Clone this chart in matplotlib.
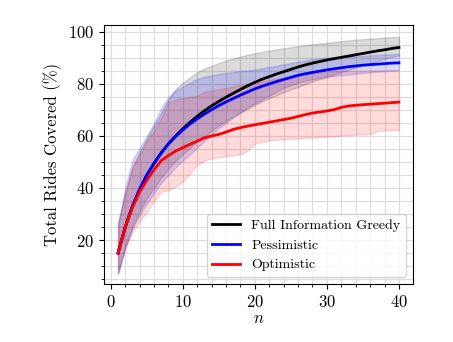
import matplotlib
matplotlib.use("Agg")
import matplotlib.pyplot as plt
import numpy as np
from matplotlib.ticker import MultipleLocator

matplotlib.rcParams.update({
    "font.family": "serif",
    "font.serif": ["cmr10"],
    "mathtext.fontset": "cm",
    "axes.formatter.use_mathtext": True,
    "font.size": 12,
})

n = np.arange(1, 41)

# Full information greedy: mean and band
greedy = [15, 25, 33, 39.5, 45, 49.5, 53.5, 57, 60, 62.8,
          65.3, 67.6, 69.7, 71.6, 73.3, 74.9, 76.4, 77.9, 79.3, 80.6,
          81.8, 82.8, 83.8, 84.7, 85.6, 86.5, 87.3, 88, 88.6, 89.2,
          89.7, 90.2, 90.7, 91.2, 91.7, 92.2, 92.7, 93.1, 93.6, 94]
greedy_hi = [26, 38, 48, 54, 59, 64, 69, 74, 78, 80.5,
             82.5, 84.5, 86, 87, 88, 89, 89.8, 90.5, 91.2, 91.8,
             92.3, 92.8, 93.3, 93.7, 94.1, 94.5, 94.9, 95.2, 95.5, 95.8,
             96.1, 96.4, 96.7, 97, 97.2, 97.4, 97.6, 97.8, 98, 98.1]
greedy_lo = [7, 17, 25, 31, 36, 40, 44, 47.5, 50.5, 53,
             55.5, 58, 60, 62, 64, 65.8, 67.5, 69, 70.5, 72,
             73.3, 74.5, 75.7, 76.8, 77.9, 78.9, 79.9, 80.9, 81.8, 82.7,
             83.6, 84.5, 85.4, 86.3, 87.2, 88, 88.8, 89.6, 90.3, 91]

# Pessimistic
pess = [15, 25, 33, 39.5, 45, 49.5, 53.5, 57, 59.8, 62.3,
        64.6, 66.6, 68.4, 70.1, 71.7, 73.1, 74.4, 75.7, 76.9, 78.1,
        79.1, 80, 80.9, 81.7, 82.5, 83.3, 83.9, 84.4, 84.9, 85.4,
        85.8, 86.2, 86.6, 86.9, 87.2, 87.4, 87.6, 87.8, 88, 88.1]
pess_hi = [26, 40, 51, 55.5, 60, 65, 71, 75, 77.5, 79,
           80.5, 82, 82.8, 83.3, 83.8, 84.2, 84.6, 85, 85.2, 85.5,
           86, 86.5, 87, 87.5, 88, 88.5, 89, 89.5, 89.8, 90,
           90.2, 90.4, 90.5, 90.6, 90.8, 91, 91.1, 91.3, 91.4, 91.6]
pess_lo = [7, 17, 24.5, 29.5, 34, 38, 42, 45, 48, 50.5,
           53, 55.5, 58, 60.5, 63, 65, 67, 69, 71, 72.5,
           74, 75.5, 77, 78.5, 79.5, 80.5, 81.2, 81.8, 82.3, 82.7,
           83, 83.3, 83.6, 83.9, 84.2, 84.5, 84.7, 84.9, 85.1, 85.3]

# Optimistic
opt = [15, 25, 32.5, 38.5, 43, 47, 50.5, 52.5, 54.2, 55.5,
       56.8, 58, 59.3, 60, 60.6, 61.5, 62.5, 63.2, 63.8, 64.3,
       64.8, 65.3, 65.8, 66.3, 66.8, 67.5, 68.2, 68.8, 69.2, 69.6,
       70.1, 71, 71.5, 71.8, 72, 72.2, 72.4, 72.6, 72.8, 73]
opt_hi = [27, 38, 48, 53, 58, 62, 67, 73, 74, 74.5,
          75, 75.5, 77, 77.5, 78, 78.5, 79, 79.5, 80, 80.5,
          81, 81.5, 82, 82.5, 83, 83.5, 84, 84.3, 84.6, 84.8,
          84.9, 85, 85, 85.1, 85.1, 85.2, 85.2, 85.3, 85.3, 85.3]
opt_lo = [8, 17, 23, 27, 31, 35, 38.6, 39.2, 40.5, 42.5,
          45.6, 49, 50.5, 51.4, 51.8, 52.2, 52.6, 53, 54.3, 57,
          57.8, 58.3, 58.5, 58.7, 58.9, 59.1, 59.3, 59.4, 59.6, 59.7,
          59.9, 60.1, 60.3, 60.5, 60.6, 60.8, 61.9, 62.1, 62.2, 62.3]

fig = plt.figure(figsize=(4.53, 3.42), dpi=100)
ax = fig.add_axes([0.2296, 0.1696, 0.682, 0.757])

ax.fill_between(n, greedy_lo, greedy_hi, color="black", alpha=0.14)
ax.fill_between(n, pess_lo, pess_hi, color="blue", alpha=0.15)
ax.fill_between(n, opt_lo, opt_hi, color="red", alpha=0.14)

ax.plot(n, greedy, color="black", lw=2, label="Full Information Greedy")
ax.plot(n, pess, color="blue", lw=2, label="Pessimistic")
ax.plot(n, opt, color="red", lw=2, label="Optimistic")

ax.set_xlim(-0.95, 41.95)
ax.set_ylim(3.1, 102.6)
ax.xaxis.set_major_locator(MultipleLocator(10))
ax.xaxis.set_minor_locator(MultipleLocator(2))
ax.yaxis.set_major_locator(MultipleLocator(20))
ax.yaxis.set_minor_locator(MultipleLocator(5))
ax.grid(which="both", color="0.87", linewidth=0.9)
ax.set_axisbelow(True)

ax.set_xlabel("$n$", labelpad=1)
ax.set_ylabel("Total Rides Covered (%)")
ax.legend(loc="lower right", fontsize=10)

fig.savefig("out.png", dpi=100)
